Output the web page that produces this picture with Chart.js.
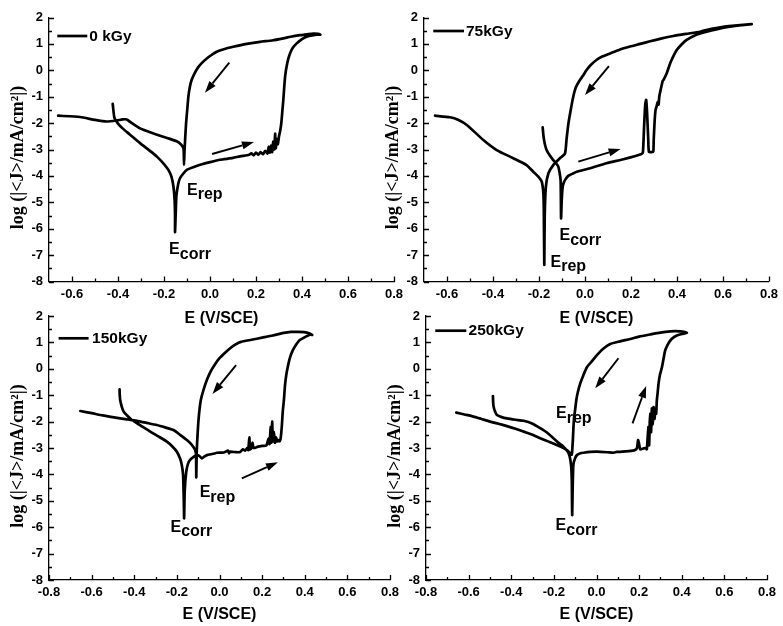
<!DOCTYPE html>
<html>
<head>
<meta charset="utf-8">
<script src="https://cdn.jsdelivr.net/npm/chart.js@4"></script>
<style>
html,body{margin:0;padding:0;background:#fff;width:783px;height:626px;overflow:hidden;position:relative;}
canvas{position:absolute;}
</style>
</head>
<body>
<canvas id="c0"></canvas>
<canvas id="c1"></canvas>
<canvas id="c2"></canvas>
<canvas id="c3"></canvas>
<script>
// ---------- tick labels ----------
const xTicksTop = [-0.6,-0.4,-0.2,0,0.2,0.4,0.6,0.8];
const xTicksBottom = [-0.8,-0.6,-0.4,-0.2,0,0.2,0.4,0.6,0.8];
const yTicks = [-8,-7,-6,-5,-4,-3,-2,-1,0,1,2];
const seriesLabels = ['0 kGy','75kGy','150kGy','250kGy'];
const xTitle = 'E (V/SCE)';
const yTitle = 'log (|<J>/mA/cm²|)';

// ---------- 0 kGy ----------
const E_0kGy = [-0.423,-0.419,-0.415,-0.4,-0.38,-0.35,-0.304,-0.26,-0.232,-0.2,
-0.181,-0.168,-0.159,-0.154,-0.152,-0.152,-0.149,-0.146,-0.138,-0.13,
-0.115,-0.101,-0.07,-0.043,0,0.043,0.1,0.13,0.17,0.18,
0.19,0.2,0.21,0.22,0.23,0.24,0.25,0.255,0.26,0.265,
0.27,0.275,0.28,0.283,0.286,0.29,0.295,0.3,0.305,0.31,
0.315,0.319,0.323,0.327,0.333,0.34,0.348,0.36,0.377,0.4,
0.42,0.45,0.475,0.48,0.47,0.449,0.42,0.391,0.35,0.319,
0.27,0.217,0.16,0.101,0.06,0.029,0.005,-0.014,-0.035,-0.051,
-0.066,-0.08,-0.088,-0.094,-0.099,-0.104,-0.108,-0.111,-0.113,-0.114,
-0.116,-0.125,-0.145,-0.18,-0.217,-0.26,-0.304,-0.34,-0.362,-0.38,
-0.405,-0.449,-0.5,-0.565,-0.66];
const logJ_0kGy = [-1.27,-1.6,-1.82,-2.02,-2.2,-2.42,-2.76,-3.06,-3.26,-3.55,
-3.77,-4.02,-4.4,-4.9,-5.5,-6.13,-5.4,-4.75,-4.3,-4.08,
-3.9,-3.77,-3.66,-3.58,-3.48,-3.39,-3.32,-3.26,-3.2,-3.15,
-3.22,-3.12,-3.2,-3.1,-3.18,-3.05,-3.15,-2.9,-3.12,-2.85,
-3.1,-2.7,-3.0,-2.4,-2.95,-2.6,-2.8,-2.5,-2.3,-2.0,
-1.5,-1.1,-0.6,-0.2,0.14,0.42,0.64,0.85,1.02,1.18,
1.27,1.33,1.36,1.35,1.38,1.39,1.36,1.33,1.27,1.21,
1.13,1.08,1.0,0.89,0.8,0.7,0.57,0.45,0.28,0.12,
-0.1,-0.37,-0.65,-1.0,-1.5,-2.0,-2.6,-3.1,-3.58,-3.1,
-2.95,-2.82,-2.69,-2.58,-2.48,-2.35,-2.2,-2.0,-1.86,-1.86,
-1.9,-1.94,-1.88,-1.77,-1.72];

// ---------- 75 kGy ----------
const E_75kGy = [-0.184,-0.181,-0.178,-0.173,-0.167,-0.155,-0.138,-0.125,-0.116,-0.11,
-0.106,-0.105,-0.104,-0.101,-0.097,-0.092,-0.087,-0.073,-0.05,-0.036,
0.022,0.094,0.167,0.246,0.252,0.257,0.262,0.266,0.27,0.275,
0.278,0.29,0.297,0.299,0.303,0.307,0.312,0.316,0.32,0.323,
0.33,0.338,0.341,0.355,0.37,0.385,0.399,0.42,0.442,0.48,
0.529,0.58,0.63,0.68,0.725,0.7,0.65,0.601,0.55,0.5,
0.44,0.384,0.33,0.283,0.24,0.196,0.15,0.109,0.075,0.051,
0.025,0.007,-0.01,-0.022,-0.04,-0.051,-0.062,-0.072,-0.08,-0.087,
-0.109,-0.138,-0.159,-0.17,-0.175,-0.177,-0.179,-0.181,-0.188,-0.203,
-0.225,-0.254,-0.312,-0.384,-0.442,-0.514,-0.55,-0.587,-0.652];
const logJ_75kGy = [-2.16,-2.45,-2.64,-2.85,-3.02,-3.2,-3.4,-3.53,-3.65,-3.9,
-4.16,-4.7,-5.61,-4.9,-4.41,-4.25,-4.16,-4.0,-3.9,-3.84,
-3.71,-3.52,-3.37,-3.17,-3.1,-2.14,-1.3,-1.12,-1.6,-2.6,
-3.08,-3.1,-3.08,-2.6,-1.9,-1.5,-1.35,-1.2,-1.3,-1.0,
-0.7,-0.4,-0.37,-0.12,0.26,0.55,0.77,0.98,1.15,1.33,
1.46,1.57,1.65,1.71,1.75,1.73,1.69,1.65,1.57,1.46,
1.38,1.3,1.2,1.1,1.0,0.9,0.78,0.64,0.52,0.4,
0.2,0.01,-0.22,-0.37,-0.65,-1.0,-1.5,-2.01,-2.6,-3.15,
-3.33,-3.59,-3.9,-4.41,-5.5,-7.37,-5.3,-4.66,-4.22,-4.03,
-3.84,-3.59,-3.33,-3.02,-2.64,-2.07,-1.88,-1.78,-1.72];

// ---------- 150 kGy ----------
const E_150kGy = [-0.469,-0.468,-0.466,-0.458,-0.45,-0.43,-0.411,-0.37,-0.325,-0.285,
-0.247,-0.22,-0.2,-0.185,-0.177,-0.171,-0.169,-0.167,-0.166,-0.163,
-0.156,-0.148,-0.138,-0.12,-0.106,-0.095,-0.083,-0.07,-0.059,-0.03,
-0.012,0.02,0.04,0.045,0.05,0.08,0.097,0.11,0.12,0.13,
0.135,0.14,0.143,0.15,0.155,0.16,0.18,0.2,0.22,0.23,
0.235,0.24,0.243,0.247,0.25,0.255,0.26,0.265,0.27,0.275,
0.28,0.285,0.289,0.293,0.297,0.302,0.308,0.314,0.32,0.33,
0.343,0.36,0.374,0.405,0.428,0.435,0.42,0.397,0.37,0.335,
0.3,0.25,0.2,0.15,0.1,0.07,0.05,0.025,0,-0.02,
-0.04,-0.058,-0.075,-0.088,-0.097,-0.103,-0.107,-0.109,-0.11,-0.114,
-0.13,-0.153,-0.185,-0.216,-0.255,-0.294,-0.34,-0.388,-0.43,-0.466,
-0.51,-0.559,-0.6,-0.653];
const logJ_150kGy = [-0.78,-1.0,-1.18,-1.45,-1.62,-1.8,-1.94,-2.15,-2.38,-2.57,
-2.76,-2.95,-3.14,-3.4,-3.64,-4.0,-4.5,-5.2,-5.66,-4.6,
-3.9,-3.6,-3.45,-3.33,-3.27,-3.3,-3.39,-3.32,-3.27,-3.22,
-3.18,-3.17,-3.1,-3.2,-3.14,-3.16,-3.15,-3.05,-3.1,-3.0,
-3.08,-2.6,-3.05,-3.0,-2.8,-3.0,-2.95,-2.92,-2.9,-2.65,
-2.85,-2.2,-2.8,-2.0,-2.75,-2.4,-2.8,-2.6,-2.75,-2.7,
-2.75,-2.7,-2.5,-2.1,-1.6,-1.2,-0.57,-0.2,0.06,0.4,
0.69,0.92,1.07,1.22,1.3,1.28,1.35,1.39,1.4,1.4,
1.36,1.26,1.18,1.1,1.02,0.9,0.78,0.6,0.4,0.18,
-0.08,-0.4,-0.8,-1.2,-1.8,-2.5,-3.2,-4.11,-3.3,-3.08,
-2.88,-2.7,-2.5,-2.32,-2.22,-2.13,-2.05,-1.97,-1.92,-1.88,
-1.82,-1.75,-1.68,-1.6];

// ---------- 250 kGy ----------
const E_250kGy = [-0.486,-0.485,-0.483,-0.476,-0.467,-0.445,-0.42,-0.38,-0.342,-0.3,
-0.264,-0.23,-0.202,-0.175,-0.155,-0.131,-0.12,-0.116,-0.115,-0.114,
-0.112,-0.11,-0.108,-0.1,-0.092,-0.075,-0.061,-0.03,0.002,0.05,
0.08,0.095,0.12,0.15,0.18,0.19,0.195,0.2,0.205,0.22,
0.23,0.236,0.24,0.244,0.247,0.25,0.253,0.256,0.26,0.264,
0.268,0.272,0.276,0.28,0.283,0.287,0.291,0.297,0.307,0.315,
0.322,0.333,0.346,0.36,0.377,0.4,0.424,0.41,0.393,0.37,
0.346,0.3,0.252,0.2,0.158,0.11,0.064,0.03,0.002,-0.02,
-0.045,-0.062,-0.077,-0.088,-0.095,-0.101,-0.105,-0.108,-0.111,-0.114,
-0.116,-0.123,-0.139,-0.16,-0.186,-0.22,-0.264,-0.3,-0.342,-0.38,
-0.42,-0.46,-0.499,-0.54,-0.577,-0.62,-0.658];
const logJ_250kGy = [-1.03,-1.25,-1.43,-1.62,-1.75,-1.83,-1.88,-1.93,-1.97,-2.08,
-2.25,-2.43,-2.63,-2.82,-2.95,-3.2,-3.6,-4.2,-5.0,-5.54,
-4.6,-3.9,-3.6,-3.38,-3.27,-3.2,-3.18,-3.15,-3.14,-3.16,
-3.18,-3.15,-3.14,-3.12,-3.08,-3.0,-2.7,-2.85,-3.05,-3.02,
-3.0,-3.05,-2.6,-2.2,-2.9,-2.0,-1.7,-2.4,-1.5,-2.1,
-1.45,-1.9,-1.6,-1.7,-1.2,-0.9,-0.57,-0.25,0.06,0.4,
0.69,0.9,1.07,1.18,1.26,1.32,1.36,1.4,1.42,1.43,
1.42,1.37,1.3,1.22,1.13,1.04,0.94,0.75,0.52,0.3,
0.06,-0.25,-0.57,-0.9,-1.2,-1.6,-1.83,-2.2,-2.71,-3.1,
-3.25,-3.2,-3.08,-2.98,-2.89,-2.77,-2.63,-2.5,-2.38,-2.27,
-2.17,-2.08,-2.0,-1.9,-1.81,-1.73,-1.66];

// ---------- annotations (data coordinates) ----------
const arrows_0kGy = [[0.084,0.29,-0.022,-0.85],[0.009,-3.17,0.191,-2.72]];
const arrows_75kGy = [[0.104,0.16,0.0,-0.94],[-0.029,-3.46,0.155,-2.98]];
const arrows_150kGy = [[0.078,0.14,-0.033,-0.95],[0.105,-4.15,0.274,-3.54]];
const arrows_250kGy = [[0.103,0.4,-0.006,-0.74],[0.169,-2.07,0.233,-0.65]];
const notes_0kGy = [['rep',-0.1,-4.72],['corr',-0.178,-6.96]];
const notes_75kGy = [['corr',-0.111,-6.43],['rep',-0.15,-7.44]];
const notes_150kGy = [['rep',-0.093,-4.87],['corr',-0.23,-6.17]];
const notes_250kGy = [['rep',-0.19,-1.88],['corr',-0.192,-6.11]];

// ---------- layout ----------
const SANS = "'Liberation Sans', Arial, Helvetica, sans-serif";
const SERIF = "'Liberation Serif', 'Times New Roman', serif";
Chart.defaults.font.family = SANS;
Chart.defaults.color = '#000';

const layouts = [
  {id:'c0', left:0,   top:0,   width:410, height:340, plotLeft:49, plotRight:394, plotTop:17.5, plotBottom:281.5, xTitleY:318.5, legend:[8.3,38.3,18.5,2]},
  {id:'c1', left:375, top:0,   width:408, height:340, plotLeft:49, plotRight:394, plotTop:17.5, plotBottom:281.5, xTitleY:318.5, legend:[9.3,40,13.5,2]},
  {id:'c2', left:0,   top:298, width:410, height:328, plotLeft:49, plotRight:390, plotTop:18,   plotBottom:282,   xTitleY:317,   legend:[9.6,39.6,22.3,3.5]},
  {id:'c3', left:377, top:298, width:406, height:328, plotLeft:49, plotRight:390, plotTop:18,   plotBottom:282,   xTitleY:317,   legend:[9.3,40.3,14.7,2.3]}
];

function makeExtras(L, arrows, notes) {
  return {
    id: 'extras_' + L.id,
    afterDraw(chart) {
      const ctx = chart.ctx, ca = chart.chartArea;
      const xs = chart.scales.x, ys = chart.scales.y;
      ctx.save();
      ctx.strokeStyle = '#000'; ctx.fillStyle = '#000';
      // inward ticks
      ctx.lineWidth = 1.3;
      const xt = xs.ticks.map(t => t.value), yt = ys.ticks.map(t => t.value);
      const xMinor = [];
      for (let i = 0; i < xt.length - 1; i++) xMinor.push((xt[i] + xt[i+1]) / 2);
      if (xt[0] - 0.1 > xs.min + 1e-6) xMinor.push(xt[0] - 0.1);
      const yMinor = [];
      for (let i = 0; i < yt.length - 1; i++) yMinor.push((yt[i] + yt[i+1]) / 2);
      ctx.beginPath();
      xt.forEach(v => { const p = Math.round(xs.getPixelForValue(v)) + 0.5; ctx.moveTo(p, ca.bottom); ctx.lineTo(p, ca.bottom - 5); });
      xMinor.forEach(v => { const p = Math.round(xs.getPixelForValue(v)) + 0.5; ctx.moveTo(p, ca.bottom); ctx.lineTo(p, ca.bottom - 3); });
      yt.forEach(v => { const p = Math.round(ys.getPixelForValue(v)) + 0.5; ctx.moveTo(ca.left, p); ctx.lineTo(ca.left + 5, p); });
      yMinor.forEach(v => { const p = Math.round(ys.getPixelForValue(v)) + 0.5; ctx.moveTo(ca.left, p); ctx.lineTo(ca.left + 3, p); });
      ctx.stroke();
      // y axis title (serif, slightly below the axis centre as in the original)
      ctx.save();
      ctx.font = 'bold 18px ' + SERIF;
      ctx.textAlign = 'center'; ctx.textBaseline = 'middle';
      ctx.translate(18, (ca.top + ca.bottom) / 2 + 8);
      ctx.rotate(-Math.PI / 2);
      ctx.fillText(yTitle, 0, 0);
      ctx.restore();
      // arrows
      ctx.lineWidth = 1.9;
      arrows.forEach(([x1, y1, x2, y2]) => {
        const ax = xs.getPixelForValue(x1), ay = ys.getPixelForValue(y1);
        const bx = xs.getPixelForValue(x2), by = ys.getPixelForValue(y2);
        const ang = Math.atan2(by - ay, bx - ax), hl = 12, hw = 4;
        const ex = bx - hl * Math.cos(ang), ey = by - hl * Math.sin(ang);
        ctx.beginPath(); ctx.moveTo(ax, ay); ctx.lineTo(ex, ey); ctx.stroke();
        ctx.beginPath();
        ctx.moveTo(bx, by);
        ctx.lineTo(ex + hw * Math.sin(ang), ey - hw * Math.cos(ang));
        ctx.lineTo(ex - hw * Math.sin(ang), ey + hw * Math.cos(ang));
        ctx.closePath(); ctx.fill();
      });
      // E_rep / E_corr labels
      ctx.textBaseline = 'alphabetic'; ctx.textAlign = 'left';
      ctx.font = 'bold 16px ' + SANS;
      notes.forEach(([sub, x, y]) => {
        const px = xs.getPixelForValue(x), py = ys.getPixelForValue(y);
        ctx.fillText('E', px, py);
        const w = ctx.measureText('E').width;
        ctx.fillText(sub, px + w, py + 4.5);
      });
      // legend
      const lg = L.legend;
      const ly = ca.top + lg[2];
      ctx.lineWidth = 2.7;
      ctx.beginPath(); ctx.moveTo(ca.left + lg[0], ly); ctx.lineTo(ca.left + lg[1], ly); ctx.stroke();
      ctx.font = 'bold 15.5px ' + SANS; ctx.textBaseline = 'middle';
      ctx.fillText(chart.data.datasets[0].label, ca.left + lg[1] + lg[3], ly + 0.5);
      ctx.restore();
    }
  };
}

function makePanel(L, E, J, label, xTicks, xMin, arrows, notes) {
  const cv = document.getElementById(L.id);
  cv.width = L.width; cv.height = L.height;
  cv.style.left = L.left + 'px'; cv.style.top = L.top + 'px';
  cv.style.width = L.width + 'px'; cv.style.height = L.height + 'px';
  const xFont = 16;
  return new Chart(cv, {
    type: 'scatter',
    data: { datasets: [{
      label: label,
      data: E.map((x, i) => ({ x: x, y: J[i] })),
      showLine: true, fill: false,
      borderColor: '#000', borderWidth: 2.7,
      borderJoinStyle: 'round', borderCapStyle: 'round',
      pointRadius: 0, pointHoverRadius: 0, tension: 0.2
    }]},
    options: {
      responsive: false, animation: false, devicePixelRatio: 1,
      events: [],
      layout: { autoPadding: false, padding: { left: 0, top: L.plotTop, right: L.width - L.plotRight, bottom: 0 } },
      plugins: { legend: { display: false }, tooltip: { enabled: false } },
      scales: {
        x: {
          type: 'linear', position: 'bottom', min: xMin, max: 0.8,
          afterFit(s) { s.height = L.height - L.plotBottom; },
          afterBuildTicks(s) { s.ticks = xTicks.map(v => ({ value: v })); },
          grid: { display: false, drawTicks: false },
          border: { display: true, color: '#000', width: 1.3 },
          ticks: { padding: 5, autoSkip: false, maxRotation: 0, minRotation: 0, color: '#000',
                   font: { size: 13, weight: 'bold' }, callback: v => Number(v).toFixed(1) },
          title: { display: true, text: xTitle, color: '#000', font: { size: xFont, weight: 'bold' },
                   padding: { top: 0, bottom: L.height - L.xTitleY - xFont * 0.6 } }
        },
        y: {
          type: 'linear', position: 'left', min: -8, max: 2,
          afterFit(s) { s.width = L.plotLeft; },
          afterBuildTicks(s) { s.ticks = yTicks.map(v => ({ value: v })); },
          grid: { display: false, drawTicks: false },
          border: { display: true, color: '#000', width: 1.3 },
          ticks: { padding: 6, color: '#000', font: { size: 13, weight: 'bold' }, callback: v => String(v) },
          title: { display: false }
        }
      }
    },
    plugins: [makeExtras(L, arrows, notes)]
  });
}

makePanel(layouts[0], E_0kGy, logJ_0kGy, seriesLabels[0], xTicksTop, -0.7, arrows_0kGy, notes_0kGy);
makePanel(layouts[1], E_75kGy, logJ_75kGy, seriesLabels[1], xTicksTop, -0.7, arrows_75kGy, notes_75kGy);
makePanel(layouts[2], E_150kGy, logJ_150kGy, seriesLabels[2], xTicksBottom, -0.8, arrows_150kGy, notes_150kGy);
makePanel(layouts[3], E_250kGy, logJ_250kGy, seriesLabels[3], xTicksBottom, -0.8, arrows_250kGy, notes_250kGy);
</script>
</body>
</html>
